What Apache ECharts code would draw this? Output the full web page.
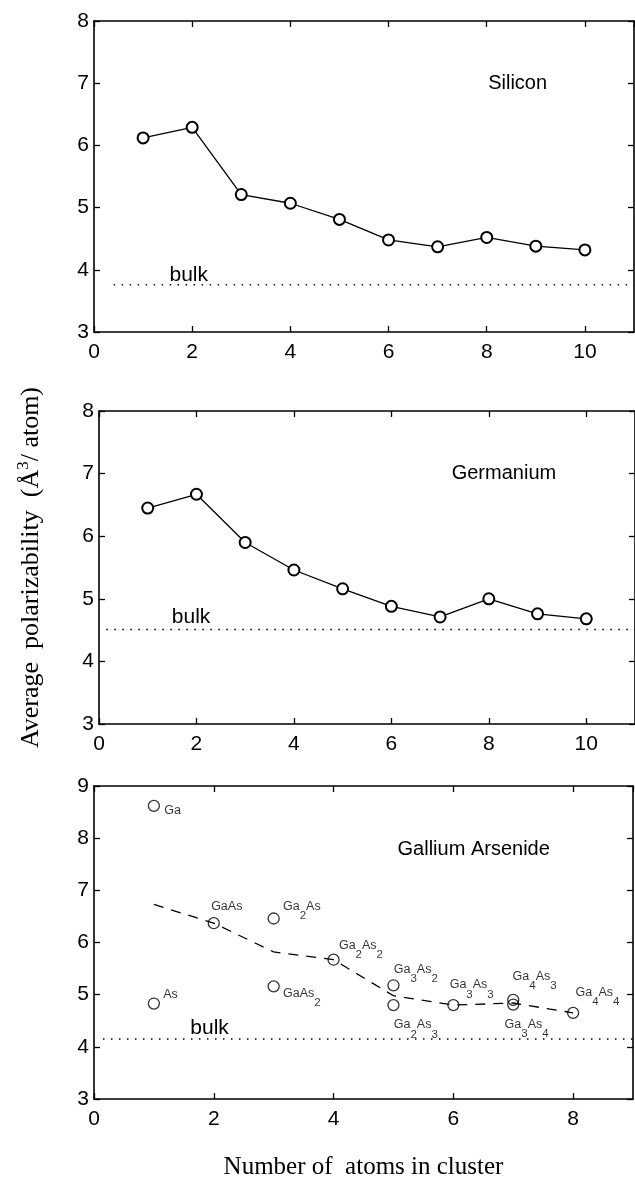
<!DOCTYPE html>
<html><head><meta charset="utf-8">
<script src="https://cdn.jsdelivr.net/npm/echarts@6/dist/echarts.min.js"></script>
<style>html,body{margin:0;padding:0;background:#fff}#c{width:635px;height:1184px}</style>
</head><body><div id="c"></div>
<script>
// ---------- data ----------
const siX = [1, 2, 3, 4, 5, 6, 7, 8, 9, 10];
const siY = [6.12, 6.29, 5.21, 5.07, 4.81, 4.48, 4.37, 4.52, 4.38, 4.32];
const siBulk = 3.76;
const siBulkFrom = 0.4;

const geX = [1, 2, 3, 4, 5, 6, 7, 8, 9, 10];
const geY = [6.45, 6.67, 5.90, 5.46, 5.16, 4.88, 4.71, 5.00, 4.76, 4.68];
const geBulk = 4.51;
const geBulkFrom = 0.15;

const gaNames = ['Ga', 'As', 'GaAs', 'Ga2As', 'GaAs2', 'Ga2As2', 'Ga3As2', 'Ga2As3', 'Ga3As3', 'Ga4As3', 'Ga3As4', 'Ga4As4'];
const gaX = [1, 1, 2, 3, 3, 4, 5, 5, 6, 7, 7, 8];
const gaY = [8.62, 4.83, 6.37, 6.46, 5.16, 5.67, 5.18, 4.80, 4.80, 4.90, 4.81, 4.65];
const gaTrendX = [1, 2, 3, 4, 5, 6, 7, 8];
const gaTrendY = [6.73, 6.37, 5.82, 5.67, 4.98, 4.80, 4.84, 4.65];
const gaBulk = 4.15;
const gaBulkFrom = 0.15;

const panelTitles = ['Silicon', 'Germanium', 'Gallium Arsenide'];
const xTitle = 'Number of  atoms in cluster';

// ---------- styles ----------
const SANS = '"Liberation Sans", Arial, sans-serif';
const SERIF = '"Liberation Serif", "Times New Roman", serif';
const SYM = 11;
// label top-left offsets (px) from point centre, for gaNames order
const gaLabelOffsets = [[11,-1],[10,-15],[-2,-23],[10,-18],[10,1],[6,-20],[1,-22],[1,14],[-3,-26],[0,-29],[-8,14],[3,-26]];

function pairs(xs, ys) { return xs.map((x, i) => [x, ys[i]]); }
function richName(n) {
  return n.split(/(\d+)/).filter(s => s.length).map(s => /^\d+$/.test(s) ? '{s|' + s + '}' : '{n|' + s + '}').join('');
}

const lineCol = '#000';
const axisLine = { show: true, onZero: false, lineStyle: { color: lineCol, width: 1.6 } };
const axisTick = { show: true, inside: true, length: 6, lineStyle: { color: lineCol, width: 1.3 } };
const tickFont = { color: '#000', fontFamily: SANS, fontSize: 21 };

const grids = [
  { left: 94, top: 21, width: 540, height: 311 },
  { left: 99, top: 411, width: 540, height: 313 },
  { left: 94, top: 786, width: 539, height: 313 }
];
const xr = [[0, 11, 2], [0, 11, 2], [0, 9, 2]];
const yr = [[3, 8, 1], [3, 8, 1], [3, 9, 1]];

const xAxes = [], yAxes = [];
grids.forEach((g, i) => {
  xAxes.push({ type: 'value', gridIndex: i, position: 'bottom', min: xr[i][0], max: xr[i][1], interval: xr[i][2],
    axisLine, axisTick, splitLine: { show: false },
    axisLabel: Object.assign({ margin: 10, showMaxLabel: false }, tickFont),
    name: i === 2 ? xTitle : '', nameLocation: 'middle', nameGap: 56,
    nameTextStyle: { fontFamily: SERIF, fontSize: 25, color: '#000' } });
  xAxes.push({ type: 'value', gridIndex: i, position: 'top', min: xr[i][0], max: xr[i][1], interval: xr[i][2],
    axisLine, axisTick, splitLine: { show: false }, axisLabel: { show: false } });
  yAxes.push({ type: 'value', gridIndex: i, position: 'left', min: yr[i][0], max: yr[i][1], interval: yr[i][2],
    axisLine, axisTick, splitLine: { show: false },
    axisLabel: Object.assign({ margin: 5 }, tickFont),
    name: i === 1 ? 'Average  polarizability  (Å{sup|3}/ atom)' : '', nameLocation: 'middle', nameGap: 52, nameRotate: 90,
    nameTextStyle: { fontFamily: SERIF, fontSize: 26, color: '#000', lineHeight: 32, verticalAlign: 'bottom',
      rich: { sup: { fontFamily: SERIF, fontSize: 17, lineHeight: 17, verticalAlign: 'top', color: '#000' } } } });
  yAxes.push({ type: 'value', gridIndex: i, position: 'right', min: yr[i][0], max: yr[i][1], interval: yr[i][2],
    axisLine, axisTick, splitLine: { show: false }, axisLabel: { show: false } });
});

function titleMark(coord, text, size) {
  return { coord, symbol: 'circle', symbolSize: 0, itemStyle: { color: 'transparent' },
    label: { show: true, position: 'inside', formatter: text, color: '#000', fontFamily: SANS, fontSize: size } };
}
const dotted = { color: '#000', width: 1.6, type: [1.5, 6.5] };

const series = [
  { type: 'line', xAxisIndex: 0, yAxisIndex: 0, data: pairs(siX, siY), symbol: 'emptyCircle', symbolSize: SYM,
    itemStyle: { color: '#000', borderWidth: 1.3 }, lineStyle: { color: '#000', width: 1.3 }, z: 3,
    markPoint: { data: [titleMark([8.63, 6.99], panelTitles[0], 20), titleMark([1.93, 3.92], 'bulk', 21)] } },
  { type: 'line', xAxisIndex: 0, yAxisIndex: 0, data: [[siBulkFrom, siBulk], [xr[0][1], siBulk]], symbol: 'none', lineStyle: dotted, z: 2 },

  { type: 'line', xAxisIndex: 2, yAxisIndex: 2, data: pairs(geX, geY), symbol: 'emptyCircle', symbolSize: SYM,
    itemStyle: { color: '#000', borderWidth: 1.3 }, lineStyle: { color: '#000', width: 1.3 }, z: 3,
    markPoint: { data: [titleMark([8.31, 7.0], panelTitles[1], 20), titleMark([1.89, 4.70], 'bulk', 21)] } },
  { type: 'line', xAxisIndex: 2, yAxisIndex: 2, data: [[geBulkFrom, geBulk], [xr[1][1], geBulk]], symbol: 'none', lineStyle: dotted, z: 2 },

  { type: 'line', xAxisIndex: 4, yAxisIndex: 4, data: pairs(gaTrendX, gaTrendY), symbol: 'none',
    lineStyle: { color: '#000', width: 1.3, type: [10, 8] }, z: 2,
    markPoint: { data: [titleMark([6.34, 7.785], panelTitles[2], 20), titleMark([1.93, 4.35], 'bulk', 21)] } },
  { type: 'line', xAxisIndex: 4, yAxisIndex: 4, data: [[gaBulkFrom, gaBulk], [xr[2][1], gaBulk]], symbol: 'none', lineStyle: dotted, z: 2 },
  { type: 'scatter', xAxisIndex: 4, yAxisIndex: 4, symbol: 'circle', symbolSize: SYM, z: 3,
    itemStyle: { color: 'rgba(0,0,0,0)', borderColor: '#000', borderWidth: 1.3 },
    data: gaNames.map((n, i) => ({
      value: [gaX[i], gaY[i]],
      label: { show: true, position: [gaLabelOffsets[i][0] + SYM / 2, gaLabelOffsets[i][1] + SYM / 2],
        align: 'left', verticalAlign: 'top', formatter: richName(n),
        rich: {
          n: { fontFamily: SANS, fontSize: 12.5, lineHeight: 14, verticalAlign: 'top', color: '#000' },
          s: { fontFamily: SANS, fontSize: 11.5, lineHeight: 12, padding: [10, 0, 0, 0], verticalAlign: 'top', color: '#000' }
        } }
    })) }
];

const chart = echarts.init(document.getElementById('c'), null, { renderer: 'canvas' });
chart.setOption({ backgroundColor: '#fff', animation: false, grid: grids, xAxis: xAxes, yAxis: yAxes, series });
</script></body></html>
